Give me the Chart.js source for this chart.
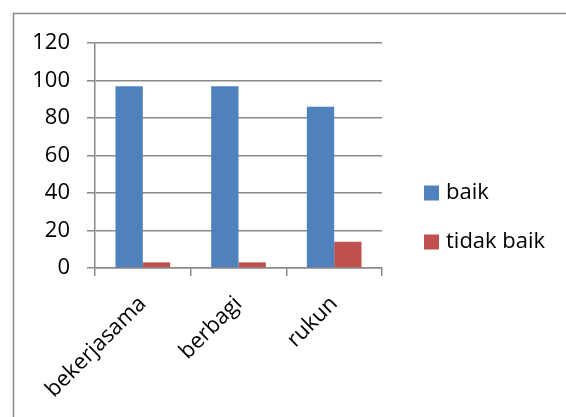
<!DOCTYPE html>
<html lang="id">
<head>
  <meta charset="UTF-8">
  <title>baik / tidak baik</title>
  <script src="https://cdn.jsdelivr.net/npm/chart.js"></script>
  <style>
    html, body { margin: 0; padding: 0; background: #fff; }
    #chart { display: block; }
  </style>
</head>
<body>

<canvas id="chart" width="566" height="417"></canvas>

<script>
  // data
  const categories = ['bekerjasama', 'berbagi', 'rukun'];
  const baik = [97, 97, 86];
  const tidakBaik = [3, 3, 14];
  const yTicks = [0, 20, 40, 60, 80, 100, 120];

  const gridColor = '#8a8a8a';
  const font = { family: 'Open Sans', size: 22 };

  // thin frame at top/left like the original screenshot
  const frame = {
    id: 'frame',
    beforeDraw(chart) {
      const c = chart.ctx;
      c.save();
      c.fillStyle = '#fff';
      c.fillRect(0, 0, chart.width, chart.height);
      c.strokeStyle = '#8a8a8a';
      c.lineWidth = 1.5;
      c.strokeRect(13.5, 13.5, 700, 600);
      c.restore();
    }
  };

  // Excel-style legend to the right of the plot
  const sideLegend = {
    id: 'sideLegend',
    afterDraw(chart) {
      const c = chart.ctx;
      const x = chart.chartArea.right + 42;
      let y = 193;
      c.save();
      c.font = font.size + 'px ' + font.family;
      c.textBaseline = 'middle';
      c.textAlign = 'left';
      chart.data.datasets.forEach(ds => {
        c.fillStyle = ds.backgroundColor;
        c.fillRect(x, y - 7.5, 15, 15);
        c.fillStyle = '#000';
        c.fillText(ds.label, x + 22, y);
        y += 49;
      });
      c.restore();
    }
  };

  new Chart(document.getElementById('chart'), {
    type: 'bar',
    data: {
      labels: categories,
      datasets: [
        { label: 'baik', data: baik, backgroundColor: '#4F81BD' },
        { label: 'tidak baik', data: tidakBaik, backgroundColor: '#C0504D' }
      ]
    },
    options: {
      responsive: false,
      animation: false,
      layout: { padding: { top: 43, left: 0, right: 184, bottom: 0 } },
      datasets: { bar: { categoryPercentage: 2 / 3.5, barPercentage: 1 } },
      plugins: {
        tooltip: { enabled: false },
        legend: { display: false }
      },
      scales: {
        x: {
          afterFit(axis) { axis.height = 149; },
          grid: {
            offset: true,
            drawOnChartArea: false,
            tickLength: 8,
            color: gridColor,
            lineWidth: 1.5
          },
          border: { color: gridColor, width: 1.5 },
          ticks: { font: font, color: '#000', minRotation: 45, maxRotation: 45, padding: 15 }
        },
        y: {
          min: 0,
          max: 120,
          afterBuildTicks(axis) { axis.ticks = yTicks.map(v => ({ value: v })); },
          afterFit(axis) { axis.width = 95; },
          grid: { tickLength: 8, color: gridColor, lineWidth: 1.5 },
          border: { color: gridColor, width: 1.5 },
          ticks: { font: font, color: '#000', padding: 17 }
        }
      }
    },
    plugins: [frame, sideLegend]
  });
</script>

</body>
</html>
